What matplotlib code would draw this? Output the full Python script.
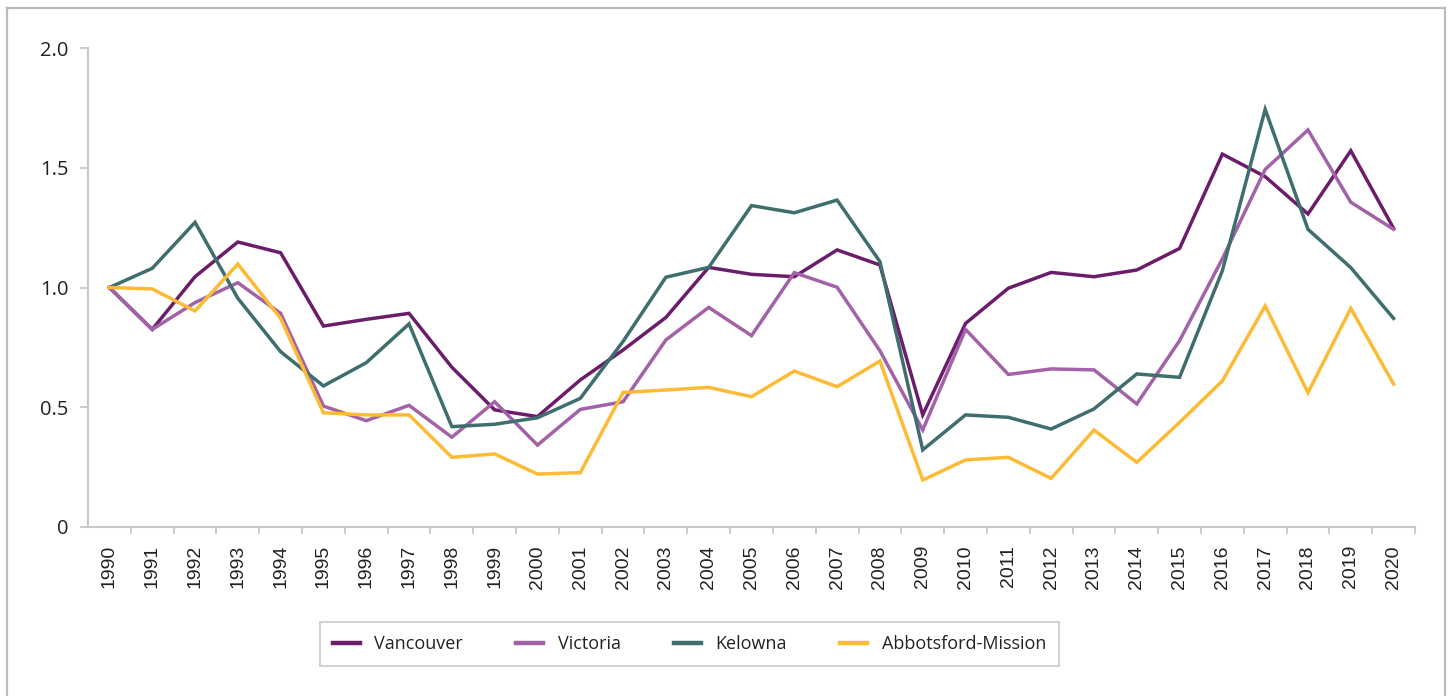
import matplotlib.pyplot as plt
from matplotlib.lines import Line2D
import numpy as np

# Dane (indeks, 1990 = 1.0)
lata = [str(r) for r in range(1990, 2021)]

vancouver = [1.00, 0.825, 1.045, 1.19, 1.145, 0.839, 0.867, 0.892, 0.667, 0.489,
             0.461, 0.614, 0.739, 0.875, 1.084, 1.055, 1.045, 1.157, 1.094, 0.468,
             0.850, 0.997, 1.063, 1.045, 1.073, 1.163, 1.557, 1.463, 1.307, 1.571,
             1.247]
victoria = [1.00, 0.825, 0.937, 1.020, 0.892, 0.505, 0.444, 0.508, 0.375, 0.523,
            0.342, 0.491, 0.523, 0.781, 0.917, 0.799, 1.062, 1.001, 0.736, 0.405,
            0.825, 0.637, 0.660, 0.656, 0.514, 0.778, 1.12, 1.493, 1.658, 1.356,
            1.243]
kelowna = [1.00, 1.080, 1.272, 0.955, 0.732, 0.589, 0.686, 0.848, 0.419, 0.429,
           0.456, 0.537, 0.775, 1.043, 1.084, 1.342, 1.312, 1.365, 1.108, 0.322,
           0.468, 0.458, 0.409, 0.493, 0.639, 0.625, 1.07, 1.744, 1.243, 1.083,
           0.871]
abbotsford = [1.00, 0.994, 0.902, 1.098, 0.871, 0.477, 0.468, 0.468, 0.291, 0.305,
              0.221, 0.227, 0.562, 0.572, 0.583, 0.544, 0.651, 0.586, 0.693, 0.196,
              0.280, 0.291, 0.203, 0.405, 0.270, 0.437, 0.610, 0.923, 0.561, 0.913,
              0.597]

serie = [
    ('Vancouver', vancouver, '#6b1d6c'),
    ('Victoria', victoria, '#a362a8'),
    ('Kelowna', kelowna, '#3e6e6d'),
    ('Abbotsford-Mission', abbotsford, '#fdbb35'),
]

W, H = 1452, 696
fig = plt.figure(figsize=(W / 100, H / 100), dpi=100)
ax = fig.add_axes([88 / W, 1 - 527 / H, (1415 - 88) / W, (527 - 48) / H])

x = np.arange(len(lata))
for nazwa, wartosci, kolor in serie:
    ax.plot(x, wartosci, color=kolor, linewidth=2.5, label=nazwa,
            solid_joinstyle='miter')

ax.set_xlim(-0.5, len(lata) - 0.5)
ax.set_ylim(0, 2.0)

# Oś Y
ax.set_yticks([0, 0.5, 1.0, 1.5, 2.0])
ax.set_yticklabels(['0', '0.5', '1.0', '1.5', '2.0'], family='Open Sans',
                   fontsize=14.5, color='#222222')
ax.tick_params(axis='y', length=6, width=1.3, color='#c8c8c8', pad=8)

# Oś X - etykiety pośrodku kategorii, kreski na granicach
ax.set_xticks(x)
ax.set_xticklabels(lata, rotation=90, family='Liberation Sans', fontsize=14,
                   color='#222222')
ax.tick_params(axis='x', which='major', length=0, pad=13)
ax.set_xticks(np.arange(len(lata)) + 0.5, minor=True)
ax.tick_params(axis='x', which='minor', length=5, width=1.3, color='#c8c8c8')

for s in ['top', 'right']:
    ax.spines[s].set_visible(False)
for s in ['left', 'bottom']:
    ax.spines[s].set_color('#c8c8c8')
    ax.spines[s].set_linewidth(1.5)

leg = fig.legend(loc='center', bbox_to_anchor=((313 + 1066) / 2 / W, 1 - 644 / H),
                 ncol=4, frameon=True, fancybox=False, edgecolor='#c8c8c8',
                 prop={'family': 'Open Sans', 'size': 13},
                 handlelength=1.5, handletextpad=0.8, columnspacing=2.95,
                 borderpad=0.7, borderaxespad=0)
leg.get_frame().set_linewidth(1.5)
for t in leg.get_texts():
    t.set_color('#222222')
for h in leg.get_lines():
    h.set_linewidth(3.2)

# Ramka wokół całości
ramka = dict(color='#bbbbbb', linewidth=1.6, transform=None)
fig.add_artist(Line2D([7, 7], [0, H - 8], **ramka))
fig.add_artist(Line2D([7, 1445], [H - 8, H - 8], **ramka))
fig.add_artist(Line2D([1445, 1445], [0, H - 8], **ramka))

fig.savefig('out.png', dpi=100)
